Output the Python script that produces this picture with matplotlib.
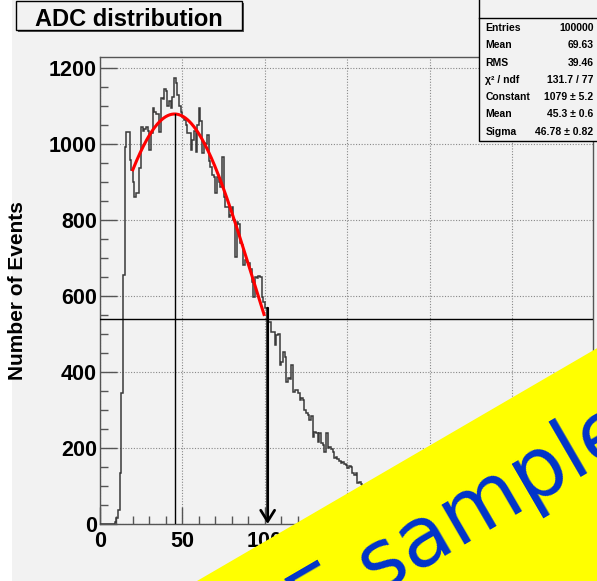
import numpy as np
import matplotlib
matplotlib.use("Agg")
import matplotlib.pyplot as plt
from matplotlib.patches import Rectangle, Polygon
from matplotlib.ticker import MultipleLocator

# ADC spectrum, one bin per ADC unit starting at 0
adc_counts = [
    0, 0, 0, 0, 0, 0, 0, 0, 0,
    5, 15, 37, 134, 345, 655, 992, 1032, 1032, 958,
    932, 900, 861, 870, 870, 937, 1045, 1035, 1040, 1045,
    1035, 984, 1030, 1094, 1085, 1080, 1078, 1032, 1120, 1118,
    1146, 1140, 1100, 1113, 1095, 1125, 1173, 1160, 1129, 1100,
    1085, 1072, 1064, 1050, 1028, 1030, 985, 1010, 1033, 980,
    1050, 1094, 1060, 976, 1002, 1000, 1024, 955, 940, 918,
    914, 870, 914, 900, 888, 967, 861, 835, 835, 809,
    813, 835, 800, 703, 796, 790, 739, 735, 681, 695,
    690, 688, 672, 637, 598, 650, 648, 652, 650, 598,
    585, 568, 568, 532, 532, 506, 506, 471, 497, 500,
    418, 426, 453, 440, 375, 384, 382, 418, 348, 353,
    352, 346, 326, 331, 327, 300, 292, 287, 274, 283,
    230, 243, 239, 216, 239, 213, 209, 190, 239, 200,
    203, 197, 190, 173, 176, 170, 165, 160, 162, 157,
    155, 148, 152, 150, 134, 129, 135, 108, 111, 104,
    100, 97, 95, 92, 88, 90, 84, 80, 82, 77,
    74, 71, 70, 66, 64, 62, 58, 57, 55, 52,
    50, 48, 46, 45, 42, 40, 39, 37, 35, 34,
    32, 30, 29, 28, 26, 25, 24, 22, 21, 20,
    19, 18, 17, 16, 15, 14, 13, 12, 12, 11,
    10, 9, 9, 8, 7, 7, 6, 6, 5, 5,
    4, 4, 3, 3, 3, 2, 2, 2, 1, 1,
    1, 1, 0, 0, 0,
]
bin_width = 1

# gaussian fit results
fit_constant = 1079
fit_mean = 45.3
fit_sigma = 46.78
fit_range = (20, 100)

# where the spectrum falls below half of the fitted maximum
halfmax_x = 101.7

stat_labels = ["Entries", "Mean", "RMS", "\u03c7\u00b2 / ndf", "Constant", "Mean", "Sigma"]
stat_values = ["100000", "69.63", "39.46", "131.7 / 77",
               "1079 \u00b1 5.2", "45.3 \u00b1 0.6", "46.78 \u00b1 0.82"]

W, H = 597, 581
BG = "#f2f2f2"
FONT = "Liberation Sans"


def fx(px):
    return px / W


def fy(py):
    return 1 - py / H


plt.rcParams["font.family"] = [FONT, "DejaVu Sans"]
plt.rcParams["font.weight"] = "bold"

fig = plt.figure(figsize=(W / 100, H / 100), dpi=100, facecolor=BG)

# white strip on the left edge of the canvas
fig.add_artist(Rectangle((0, 0), fx(12), 1, transform=fig.transFigure,
                         facecolor="white", edgecolor="none", zorder=0))

ax = fig.add_axes([fx(99.8), fy(524), fx(593.3) - fx(99.8), fy(57) - fy(524)])
ax.set_facecolor(BG)

edges = np.arange(len(adc_counts) + 1) * bin_width
ax.stairs(adc_counts, edges, color="#3a3a3a", lw=1.1, zorder=3)

# fitted gaussian over the fit range
xf = np.linspace(fit_range[0], fit_range[1] - 0.5, 200)
yf = fit_constant * np.exp(-0.5 * ((xf - fit_mean) / fit_sigma) ** 2)
ax.plot(xf, yf, color="red", lw=2.2, zorder=4)

# mean marker and half-maximum level
half_max = fit_constant / 2
ax.plot([fit_mean, fit_mean], [0, fit_constant], color="black", lw=1.0, zorder=4)
ax.axhline(half_max, color="black", lw=1.0, zorder=4)

top = adc_counts[int(halfmax_x)]
ax.annotate("", xy=(halfmax_x, 0), xytext=(halfmax_x, top),
            arrowprops=dict(arrowstyle="->,head_length=0.8,head_width=0.5",
                            lw=2.0, color="black", shrinkA=0, shrinkB=0),
            zorder=5)

ax.set_xlim(0, 299)
ax.set_ylim(0, 1229)
ax.xaxis.set_major_locator(MultipleLocator(50))
ax.xaxis.set_minor_locator(MultipleLocator(10))
ax.yaxis.set_major_locator(MultipleLocator(200))
ax.yaxis.set_minor_locator(MultipleLocator(50))
ax.tick_params(which="both", direction="in", color="#555555", width=1,
               labelsize=15.5)
ax.tick_params(which="major", length=12)
ax.tick_params(which="minor", length=6)
ax.tick_params(axis="y", pad=2)
ax.tick_params(axis="x", pad=5)
for lab in ax.get_xticklabels() + ax.get_yticklabels():
    lab.set_fontweight("bold")
for sp in ax.spines.values():
    sp.set_color("#555555")
    sp.set_linewidth(1)
ax.grid(True, which="major", linestyle=(0, (1, 1.5)), color="#888888", lw=0.8)
ax.set_axisbelow(True)

fig.text(fx(17.5), fy(291), "Number of Events", rotation=90, ha="center",
         va="center", fontsize=15, fontweight="bold")

# title box with shadow
fig.add_artist(Rectangle((fx(17.7), fy(32)), fx(241.7) - fx(15.7), fy(1) - fy(30),
                         transform=fig.transFigure, facecolor="#555555",
                         edgecolor="none", zorder=6))
fig.add_artist(Rectangle((fx(15.7), fy(30)), fx(241.7) - fx(15.7), fy(1) - fy(30),
                         transform=fig.transFigure, facecolor=BG,
                         edgecolor="black", lw=1, zorder=7))
fig.text(fx(128.5), fy(19), "ADC distribution", ha="center", va="center",
         fontsize=17, fontweight="bold", zorder=8)

# statistics box
fig.add_artist(Rectangle((fx(479.3), fy(141)), 0.3, fy(0) - fy(141) + 0.01,
                         transform=fig.transFigure, facecolor=BG,
                         edgecolor="black", lw=1, zorder=7))
fig.add_artist(plt.Line2D([fx(479.3), 1], [fy(18.3), fy(18.3)],
                          transform=fig.transFigure, color="black", lw=1, zorder=8))
for i, (lab, val) in enumerate(zip(stat_labels, stat_values)):
    yy = fy(28 + i * 17.3)
    fig.text(fx(485.5), yy, lab, ha="left", va="center", fontsize=7.5,
             fontweight="bold", zorder=9)
    fig.text(fx(593.5), yy, val, ha="right", va="center", fontsize=7.5,
             fontweight="bold", zorder=9)

# diagonal banner across the lower right corner
ang = np.deg2rad(30.2)
d = np.array([np.cos(ang), -np.sin(ang)])
n = np.array([np.sin(ang), np.cos(ang)])
p1 = np.array([197.0, 581.0]) - 300 * d
p2 = p1 + 1000 * d
p3 = p2 + 260 * n
p4 = p1 + 260 * n
verts = [(fx(p[0]), fy(p[1])) for p in (p1, p2, p3, p4)]
fig.add_artist(Polygon(verts, closed=True, transform=fig.transFigure,
                       facecolor="#ffff00", edgecolor="none", zorder=10))
fig.text(fx(639), fy(443.5), "FREE sample", rotation=30.2, rotation_mode="anchor",
         ha="right", va="baseline", fontsize=60, color="#0033cc",
         fontweight="normal", family="DejaVu Sans", zorder=11)

fig.savefig("out.png", dpi=100, facecolor=BG)
